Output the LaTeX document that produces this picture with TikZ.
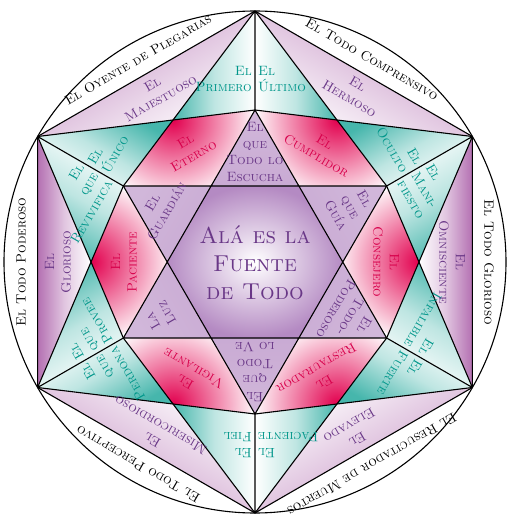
\documentclass[tikz,border=0pt]{standalone}
\usepackage{xcolor}
\usepackage{tikz}

\definecolor{tealfill}{RGB}{70,182,172}
\definecolor{tealtext}{RGB}{0,150,138}
\definecolor{lilafill}{RGB}{180,112,178}
\definecolor{lilatext}{RGB}{105,55,135}
\definecolor{lavfill}{RGB}{172,125,188}
\definecolor{rojofill}{RGB}{226,0,78}
\definecolor{rojotext}{RGB}{215,0,75}

\tikzset{
  nombre/.style={font=\fontsize{13.5}{16.5}\selectfont\scshape, inner sep=0pt, align=center},
  linea/.style={line width=1.1pt, black, line join=round}
}

\begin{document}
\begin{tikzpicture}[x=1pt,y=1pt]
\useasboundingbox (-255,-266) rectangle (255,262);
\def\R{251}
\def\rt{152}
\pgfmathsetmacro\rh{\rt/sqrt(3)}
\pgfmathsetmacro\rw{sqrt(3)*\rt/(\R+\rt)*\R}

% puntos: V hexagono exterior, T puntas interiores, W y H entre ellos
\foreach \i in {0,...,5}{
  \coordinate (V\i) at (90+60*\i:\R);
  \coordinate (T\i) at (90+60*\i:\rt);
  \coordinate (W\i) at (120+60*\i:\rw);
  \coordinate (H\i) at (120+60*\i:\rh);
}

% rellenos
\foreach \i in {0,...,5}{
  \pgfmathtruncatemacro\sig{mod(\i+1,6)}
  \pgfmathtruncatemacro\ant{mod(\i+5,6)}
  \pgfmathtruncatemacro\ang{90+60*\i}
  \pgfmathtruncatemacro\sw{\ang-60}
  \pgfmathtruncatemacro\sr{\ang-180}
  \pgfmathtruncatemacro\st{\ang-90}
  \shade[top color=lilafill, bottom color=white, middle color=lilafill!40, shading angle=\sw] (V\i) -- (V\sig) -- (W\i) -- cycle;
  \shade[top color=tealfill, bottom color=white, middle color=tealfill!35, shading angle=\ang] (V\i) -- (W\i) -- (T\i) -- cycle;
  \shade[top color=tealfill, bottom color=white, middle color=tealfill!35, shading angle=\sr] (V\i) -- (T\i) -- (W\ant) -- cycle;
  \begin{scope}
    \clip (W\i) -- (T\i) -- (H\i) -- (T\sig) -- cycle;
    \shade[inner color=rojofill, outer color=rojofill!7] (W\i) circle (78);
  \end{scope}
  \shade[top color=lavfill!55, middle color=lavfill!12, bottom color=lavfill!65, shading angle=\st] (T\i) -- (H\i) -- (H\ant) -- cycle;
}
\shade[inner color=white, outer color=lavfill!90] (H0) -- (H1) -- (H2) -- (H3) -- (H4) -- (H5) -- cycle;

% lineas
\draw[linea] (0,0) circle (\R);
\draw[linea] (V0) -- (V1) -- (V2) -- (V3) -- (V4) -- (V5) -- cycle;
\draw[linea] (T0) -- (T2) -- (T4) -- cycle (T1) -- (T3) -- (T5) -- cycle;
\foreach \i in {0,...,5}{
  \pgfmathtruncatemacro\sig{mod(\i+1,6)}
  \pgfmathtruncatemacro\ant{mod(\i+5,6)}
  \draw[linea] (T\ant) -- (V\i) -- (T\sig) (V\i) -- (T\i);
}

% nombres en las puntas
\foreach \i/\izq/\der/\punta in {
  0/{El\\Primero}/{El\\Último}/{El\\que\\Todo lo\\Escucha},
  1/{El\\que\\Revivifica}/{El\\Único}/{El\\Guardián},
  2/{El\\que\\Perdona}/{El\\que\\Provee}/{La\\Luz},
  3/{El\\Paciente}/{El\\Fiel}/{El\\que\\Todo\\lo Ve},
  4/{El\\Infalible}/{El\\Fuerte}/{El\\Todo-\\Poderoso},
  5/{El\\Oculto}/{El\\Mani-\\fiesto}/{El\\que\\Guía}}{
  \pgfmathtruncatemacro\rot{60*\i}
  \pgfmathtruncatemacro\ang{90+60*\i}
  \node[nombre, text=tealtext, anchor=east, align=right, rotate=\rot] (izq\i) at ([rotate=\rot]-3,183) {\izq};
  \node[nombre, text=tealtext, anchor=west, align=left, rotate=\rot] (der\i) at ([rotate=\rot]3,183) {\der};
  \node[nombre, text=lilatext, rotate=\rot] (punta\i) at (\ang:110) {\punta};
}

% nombres entre las puntas
\foreach \i/\borde/\lila/\rojo in {
  0/{El Oyente de Plegarias}/{El\\Majestuoso}/{El\\Eterno},
  1/{El Todo Poderoso}/{El\\Glorioso}/{El\\Paciente},
  2/{El Todo Perceptivo}/{El\\Misericordioso}/{El\\Vigilante},
  3/{El Resucitador de Muertos}/{El\\Elevado}/{El\\Restaurador},
  4/{El Todo Glorioso}/{El\\Omnisciente}/{El\\Consejero},
  5/{El Todo Comprensivo}/{El\\Hermoso}/{El\\Cumplidor}}{
  \pgfmathtruncatemacro\rot{30+60*\i}
  \pgfmathtruncatemacro\ang{120+60*\i}
  \node[nombre, rotate=\rot] (borde\i) at (\ang:234) {\borde};
  \node[nombre, text=lilatext, rotate=\rot] (lila\i) at (\ang:197) {\lila};
  \node[nombre, text=rojotext, rotate=\rot] (rojo\i) at (\ang:131) {\rojo};
}

\node[font=\fontsize{23}{28}\selectfont\scshape, text=lilatext, align=center] (centro) at (0,-1) {Alá es la\\Fuente\\de Todo};
\end{tikzpicture}
\end{document}
